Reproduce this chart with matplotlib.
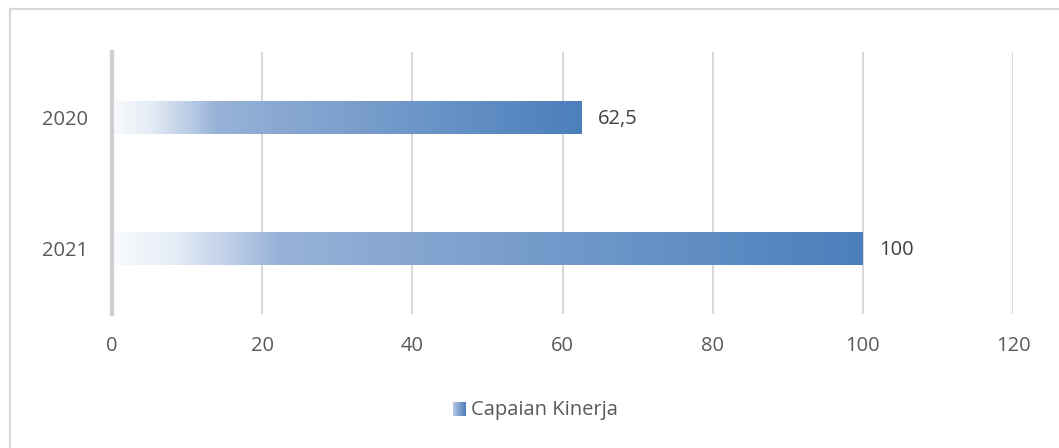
import numpy as np
import matplotlib
matplotlib.use("Agg")
import matplotlib.pyplot as plt
from matplotlib.colors import LinearSegmentedColormap
from matplotlib.lines import Line2D

categories = ["2020", "2021"]
values = [62.5, 100]
value_labels = ["62,5", "100"]
xticks = [0, 20, 40, 60, 80, 100, 120]
series_name = "Capaian Kinerja"

plt.rcParams['font.family'] = ['Open Sans', 'DejaVu Sans']
FS = 14.5

W, H = 1059, 448
fig = plt.figure(figsize=(W / 100, H / 100), dpi=100)
fig.patch.set_facecolor("white")

# outer border (only top and left visible in reference)
fig.add_artist(Line2D([9.5 / W, 1.0], [(H - 9.5) / H] * 2,
                      transform=fig.transFigure, color="#d9d9d9", linewidth=1.6))
fig.add_artist(Line2D([9.5 / W] * 2, [0.0, (H - 9.5) / H],
                      transform=fig.transFigure, color="#d9d9d9", linewidth=1.6))

ax = fig.add_axes([112 / W, (H - 314) / H, (1013 - 112) / W, 262 / H])
ax.set_xlim(0, 120)
ax.set_ylim(1.5, -0.5)

cmap = LinearSegmentedColormap.from_list(
    "fade",
    [(0.0, "#f8fafd"), (0.08, "#e6edf6"), (0.16, "#bccde6"),
     (0.22, "#98b3d8"), (0.35, "#8aa9d2"), (1.0, "#4b7fbc")])

ypos = np.arange(len(categories))
bars = ax.barh(ypos, values, height=0.245, color="none", zorder=3)
grad = np.linspace(0, 1, 256).reshape(1, -1)
for b in bars:
    x0, y0 = b.get_x(), b.get_y()
    w, h = b.get_width(), b.get_height()
    im = ax.imshow(grad, cmap=cmap, aspect="auto",
                   extent=(x0, x0 + w, y0 + h, y0), zorder=3,
                   interpolation="bilinear")
    im.set_clip_path(b)

for yi, v, lab in zip(ypos, values, value_labels):
    ax.annotate(lab, (v, yi), xytext=(12, -1), textcoords="offset points",
                va="center", ha="left", fontsize=FS, color="#404040")

ax.set_yticks(ypos)
ax.set_yticklabels(categories)
ax.set_xticks(xticks)
ax.set_xticklabels([str(t) for t in xticks])
ax.tick_params(axis="both", length=0, labelsize=FS, colors="#595959")
ax.tick_params(axis="x", pad=16)
ax.tick_params(axis="y", pad=17)

ax.grid(axis="x", color="#d9d9d9", linewidth=1.5, zorder=0)
for s in ["top", "right", "bottom"]:
    ax.spines[s].set_visible(False)
ax.spines["left"].set_color("#d0d0d0")
ax.spines["left"].set_linewidth(3)
ax.spines["left"].set_zorder(4)
ax.set_facecolor("none")

# legend
lax = fig.add_axes([453 / W, (H - 416) / H, 13 / W, 14 / H])
lax.imshow(grad, cmap=LinearSegmentedColormap.from_list(
    "lg", ["#b8cbe5", "#7fa2cf", "#4b7fbc"]), aspect="auto",
    extent=(0, 1, 0, 1))
lax.set_axis_off()
fig.text(471 / W, (H - 410) / H, series_name, fontsize=FS, color="#595959",
         va="center", ha="left")

fig.savefig("out.png", dpi=100, facecolor="white")
